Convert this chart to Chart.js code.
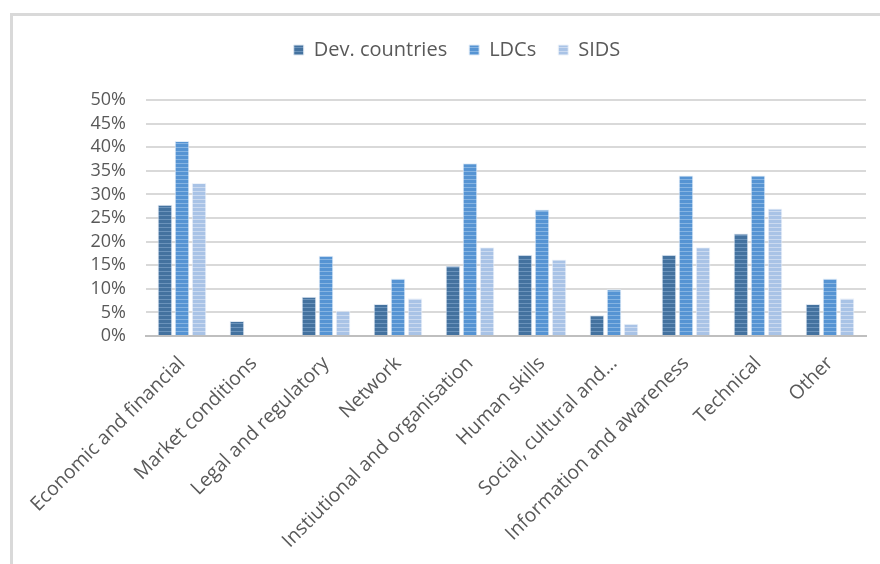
<!DOCTYPE html>
<html>
<head>
<meta charset="utf-8">
<script src="https://cdn.jsdelivr.net/npm/chart.js@4.4.1/dist/chart.umd.min.js"></script>
<style>
  html, body { margin: 0; padding: 0; background: #fff; }
  #wrap { position: relative; width: 880px; height: 564px; overflow: hidden; }
  #frame { position: absolute; left: 10px; top: 13px; right: -5px; bottom: -5px;
           border-left: 3px solid #d9d9d9; border-top: 3px solid #d9d9d9; }
  canvas { position: absolute; left: 0; top: 0; }
</style>
</head>
<body>
<div id="wrap">
  <div id="frame"></div>
  <canvas id="chart" width="880" height="564"></canvas>
</div>
<script>
const categories = [
	"Economic and financial",
	"Market conditions",
	"Legal and regulatory",
	"Network",
	"Instiutional and organisation",
	"Human skills",
	"Social, cultural and\u2026",
	"Information and awareness",
	"Technical",
	"Other",
];

// shares, in %
const devCountries = [27.8, 3.2, 8.3, 6.8, 14.9, 17.2, 4.4, 17.2, 21.7, 6.8];
const ldcs = [41.3, 0, 17.0, 12.2, 36.6, 26.8, 9.9, 34.0, 34.0, 12.2];
const sids = [32.4, 0, 5.4, 8.0, 18.8, 16.2, 2.6, 18.8, 27.0, 8.0];

// horizontal stripe fill, like the office "gradient" bars
function stripes(base, light) {
	const c = document.createElement("canvas");
	c.width = 4;
	c.height = 4;
	const g = c.getContext("2d");
	g.fillStyle = base;
	g.fillRect(0, 0, 4, 4);
	g.fillStyle = light;
	g.fillRect(0, 3, 4, 1);
	return g.createPattern(c, "repeat");
}

const ctx = document.getElementById("chart").getContext("2d");
const font = "'Open Sans', Lato, sans-serif";

// taller legend block so the plot starts lower, and legend nudged right
const legendSpace = {
	id: "legendSpace",
	beforeInit(chart) {
		const fit = chart.legend.fit;
		chart.legend.fit = function () {
			fit.call(this);
			this.height += 30;
		};
	},
	afterLayout(chart) {
		chart.legend.left += 48;
	},
};

const data = {
	labels: categories,
	datasets: [
		{
			label: "Dev. countries",
			data: devCountries,
			backgroundColor: stripes("#44729f", "#6b93bb"),
			borderColor: "#dfe8f2",
			borderWidth: 1,
		},
		{
			label: "LDCs",
			data: ldcs,
			backgroundColor: stripes("#5694d3", "#86b4e2"),
			borderColor: "#e3edf8",
			borderWidth: 1,
		},
		{
			label: "SIDS",
			data: sids,
			backgroundColor: stripes("#a9c3e6", "#cbdaf0"),
			borderColor: "#eef3fa",
			borderWidth: 1,
		},
	],
};

const config = {
	type: "bar",
	data: data,
	plugins: [legendSpace],
	options: {
		responsive: false,
		animation: false,
		datasets: {
			bar: {
				categoryPercentage: 0.71,
				barPercentage: 0.86,
			},
		},
		layout: {
			padding: { top: 18, left: 0, right: 14, bottom: 0 },
		},
		scales: {
			x: {
				grid: { display: false, drawTicks: false },
				border: { color: "#bfbfbf", width: 2 },
				ticks: {
					color: "#595959",
					font: { family: font, size: 19.5 },
					minRotation: 45,
					maxRotation: 45,
					autoSkip: false,
					padding: 16,
				},
				afterFit(scale) {
					scale.height = 228;
				},
			},
			y: {
				min: 0,
				max: 50,
				grid: { color: "#d9d9d9", lineWidth: 2, drawTicks: false },
				border: { display: false },
				ticks: {
					stepSize: 5,
					autoSkip: false,
					color: "#595959",
					font: { family: font, size: 18, lineHeight: 1 },
					padding: 20,
					callback: (v) => v + "%",
				},
				afterFit(scale) {
					scale.width = 146;
				},
			},
		},
		plugins: {
			legend: {
				position: "top",
				labels: {
					color: "#595959",
					font: { family: font, size: 20 },
					boxWidth: 10,
					boxHeight: 10,
					padding: 22,
				},
			},
			tooltip: { enabled: false },
		},
	},
};

const bar_chart = new Chart(ctx, config);
</script>
</body>
</html>
